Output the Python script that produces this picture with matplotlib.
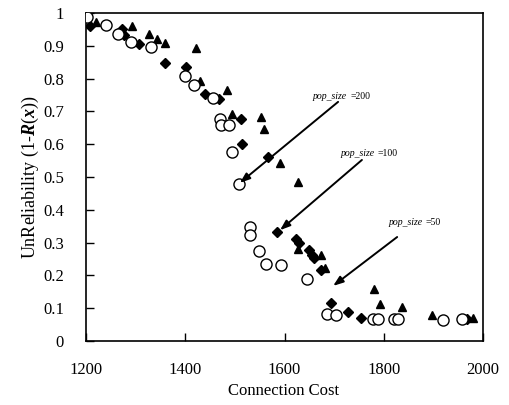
import matplotlib
matplotlib.use("Agg")
import matplotlib.pyplot as plt

# pop_size = 200 (open circles)
c_x = [1202, 1240, 1265, 1291, 1330, 1400, 1418, 1455, 1470, 1473, 1489, 1495, 1508,
       1530, 1530, 1549, 1563, 1593, 1646, 1686, 1704, 1778, 1788, 1821, 1829, 1920, 1957]
c_y = [0.988, 0.963, 0.936, 0.911, 0.897, 0.809, 0.781, 0.742, 0.676, 0.659, 0.659, 0.577, 0.479,
       0.349, 0.323, 0.275, 0.234, 0.232, 0.189, 0.082, 0.078, 0.068, 0.067, 0.066, 0.066, 0.064, 0.066]

# pop_size = 100 (filled diamonds)
d_x = [1208, 1272, 1277, 1307, 1359, 1402, 1440, 1469, 1512, 1514, 1567,
       1584, 1623, 1629, 1650, 1655, 1659, 1673, 1693, 1728, 1754, 1967]
d_y = [0.960, 0.951, 0.933, 0.905, 0.848, 0.836, 0.753, 0.738, 0.676, 0.601, 0.562,
       0.331, 0.310, 0.298, 0.277, 0.262, 0.252, 0.216, 0.117, 0.088, 0.069, 0.066]

# pop_size = 50 (filled triangles)
t_x = [1221, 1292, 1327, 1344, 1359, 1421, 1430, 1485, 1494, 1552, 1559, 1590, 1627,
       1628, 1673, 1682, 1781, 1792, 1836, 1897, 1979]
t_y = [0.972, 0.961, 0.935, 0.921, 0.908, 0.894, 0.793, 0.766, 0.691, 0.682, 0.646, 0.544, 0.486,
       0.281, 0.262, 0.222, 0.159, 0.113, 0.105, 0.079, 0.069]

labels = ["pop_size", "pop_size", "pop_size"]
values = ["=200", "=100", "=50"]
text_xy = [(1657, 0.744), (1712, 0.573), (1809, 0.360)]
arrow_start = [(1708, 0.729), (1756, 0.552), (1827, 0.317)]
arrow_end = [(1510, 0.482), (1591, 0.338), (1698, 0.168)]

x_ticks = [1200, 1400, 1600, 1800, 2000]
y_ticks = [0, 0.1, 0.2, 0.3, 0.4, 0.5, 0.6, 0.7, 0.8, 0.9, 1]
y_tick_labels = ["0", "0.1", "0.2", "0.3", "0.4", "0.5", "0.6", "0.7", "0.8", "0.9", "1"]

plt.rcParams['font.family'] = ['Liberation Serif', 'DejaVu Serif']
plt.rcParams['mathtext.fontset'] = 'custom'
plt.rcParams['mathtext.rm'] = 'Liberation Serif'
plt.rcParams['mathtext.it'] = 'Liberation Serif:italic:bold'
plt.rcParams['mathtext.bf'] = 'Liberation Serif:bold'

fig = plt.figure(figsize=(5.09, 4.05), dpi=100)
ax = fig.add_axes([86/509, 1-341/405, (483-86)/509, (341-13)/405])

ax.plot(t_x, t_y, linestyle='none', marker='^', ms=5.5, color='black', zorder=3)
ax.plot(d_x, d_y, linestyle='none', marker='D', ms=5.5, color='black', zorder=3)
ax.plot(c_x, c_y, linestyle='none', marker='o', ms=8, mfc='white', mec='black', mew=1.0, zorder=4)

for lab, val, txy, s, e in zip(labels, values, text_xy, arrow_start, arrow_end):
    ax.text(txy[0], txy[1], lab, fontsize=7, style='italic', ha='left', va='center')
    ax.text(txy[0] + 76, txy[1], val, fontsize=7, ha='left', va='center')
    ax.annotate('', xy=e, xytext=s,
                arrowprops=dict(arrowstyle='-|>,head_length=0.6,head_width=0.22',
                                color='black', lw=1.4, shrinkA=0, shrinkB=0), zorder=5)

ax.set_xlim(1200, 2000)
ax.set_ylim(0, 1)
ax.set_xticks(x_ticks)
ax.set_xticklabels([str(v) for v in x_ticks])
ax.set_yticks(y_ticks)
ax.set_yticklabels(y_tick_labels)
ax.tick_params(direction='in', length=6, width=1, labelsize=12)
ax.tick_params(axis='x', pad=15)
ax.tick_params(axis='y', pad=16)
for sp in ax.spines.values():
    sp.set_linewidth(1.2)

ax.set_xlabel('Connection Cost', fontsize=12)
ax.set_ylabel(r'UnReliability (1-$\mathit{R}$($\mathit{x}$))', fontsize=13)
ax.xaxis.set_label_coords((284 - 86) / 397, -(383 - 341) / 328)
ax.yaxis.set_label_coords(-(86 - 41) / 397, 0.5)

fig.savefig('out.png', dpi=100)
